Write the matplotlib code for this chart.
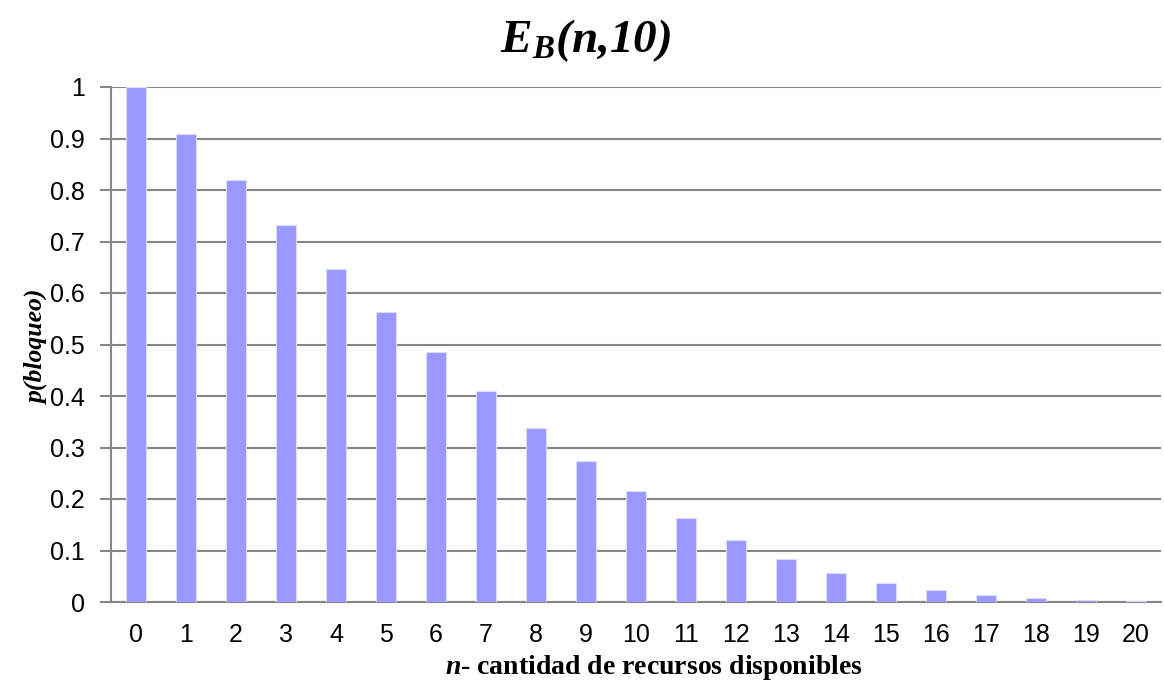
import matplotlib
matplotlib.use("Agg")
import matplotlib.pyplot as plt

# Erlang-B blocking probability for offered traffic A = 10 Erl
n_recursos = list(range(21))
p_bloqueo = [1.000, 0.909, 0.820, 0.732, 0.647, 0.564, 0.485, 0.409, 0.338,
             0.273, 0.215, 0.163, 0.120, 0.084, 0.057, 0.037, 0.023, 0.013,
             0.0074, 0.0039, 0.0019]
y_ticks = [0, 0.1, 0.2, 0.3, 0.4, 0.5, 0.6, 0.7, 0.8, 0.9, 1]
y_ticklabels = ["0", "0.1", "0.2", "0.3", "0.4", "0.5", "0.6", "0.7", "0.8", "0.9", "1"]

plt.rcParams["mathtext.fontset"] = "custom"
plt.rcParams["mathtext.rm"] = "Liberation Serif"
plt.rcParams["mathtext.it"] = "Liberation Serif:italic"
plt.rcParams["mathtext.bf"] = "Liberation Serif:bold"
plt.rcParams["mathtext.bfit"] = "Liberation Serif:italic:bold"

fig = plt.figure(figsize=(11.64, 6.86), dpi=100)
ax = fig.add_axes([111 / 1164, 1 - 602 / 686, 1050 / 1164, (602 - 87) / 686])

ax.bar(n_recursos, p_bloqueo, width=0.4, color="#9999ff",
       edgecolor="#dcdcff", linewidth=0.8, zorder=3)

ax.set_xlim(-0.5, 20.5)
ax.set_ylim(0, 1)
ax.set_yticks(y_ticks)
ax.set_yticklabels(y_ticklabels)
ax.set_xticks(n_recursos)
ax.set_xticklabels([str(v) for v in n_recursos])

ax.yaxis.grid(True, color="#868686", linewidth=1.5, zorder=0)
ax.set_axisbelow(True)
for side in ("top", "right"):
    ax.spines[side].set_visible(False)
for side in ("left", "bottom"):
    ax.spines[side].set_color("#868686")
    ax.spines[side].set_linewidth(1.5)

ax.tick_params(axis="y", direction="out", length=8, width=1.5, color="#868686",
               labelsize=18, pad=11)
ax.tick_params(axis="x", length=0, labelsize=18, pad=15)
for lbl in ax.get_xticklabels() + ax.get_yticklabels():
    lbl.set_fontfamily("Liberation Sans")

fig.text(586 / 1164, 1 - 41 / 686, r"$\mathbfit{E_B(n{,}10)}$", ha="center",
         va="center", fontsize=34)
fig.text(37 / 1164, 1 - 347 / 686, "p(bloqueo)", rotation=90, ha="center",
         va="center", fontsize=18.5, fontfamily="Liberation Serif",
         fontweight="bold", fontstyle="italic")
fig.text(654 / 1164, 1 - 667 / 686,
         r"$\mathbfit{n}$- cantidad de recursos disponibles", ha="center",
         va="center", fontsize=20, fontfamily="Liberation Serif",
         fontweight="bold")

fig.savefig("out.png", dpi=100)
